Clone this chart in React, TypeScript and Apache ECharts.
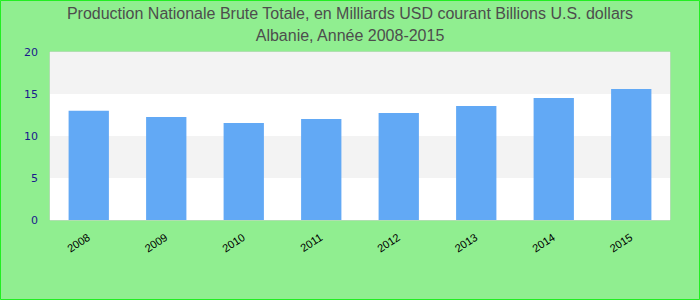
import React, { useEffect, useRef } from "react";
import * as echarts from "echarts";

const categories = ["2008", "2009", "2010", "2011", "2012", "2013", "2014", "2015"];
const values = [13.0, 12.26, 11.55, 12.02, 12.74, 13.57, 14.52, 15.6];
const titleLines = [
  "Production Nationale Brute Totale, en Milliards USD courant Billions U.S. dollars",
  "Albanie, Année 2008-2015",
];

export default function App() {
  const ref = useRef<HTMLDivElement>(null);
  useEffect(() => {
    document.body.style.margin = "0";
    const chart = echarts.init(ref.current!, null, { renderer: "svg" });
    chart.setOption({
      animation: false,
      backgroundColor: "#90EE90",
      title: {
        text: titleLines.join("\n"),
        left: "center",
        top: -3,
        textStyle: {
          fontFamily: "Liberation Sans",
          fontSize: 16,
          fontWeight: "normal",
          color: "#4D4D4D",
          lineHeight: 22,
        },
      },
      graphic: [
        {
          type: "rect",
          shape: { x: 0.5, y: 0.5, width: 699, height: 299 },
          style: { fill: "none", stroke: "#22EE22", lineWidth: 1 },
          silent: true,
        },
      ],
      grid: {
        left: 50,
        right: 30,
        top: 52,
        bottom: 80,
        show: true,
        borderColor: "#D0D0D0",
        borderWidth: 1,
        backgroundColor: "transparent",
      },
      xAxis: {
        type: "category",
        data: categories,
        axisLine: { show: false },
        axisTick: { show: false },
        axisLabel: {
          interval: 0,
          rotate: 33,
          margin: 16,
          fontFamily: "Liberation Sans",
          fontSize: 11,
          color: "#000",
        },
      },
      yAxis: {
        type: "value",
        min: 0,
        max: 20,
        interval: 5,
        axisLine: { show: false },
        axisTick: { show: false },
        splitLine: { show: false },
        splitArea: { show: true, areaStyle: { color: ["#FFFFFF", "#F3F3F3"] } },
        axisLabel: {
          fontFamily: "DejaVu Sans",
          fontSize: 11,
          color: "#1A1A8C",
          margin: 12,
        },
      },
      series: [
        {
          type: "bar",
          data: values,
          barWidth: "52%",
          itemStyle: { color: "#62A9F5" },
        },
      ],
    });
    return () => chart.dispose();
  }, []);
  return <div ref={ref} style={{ width: 700, height: 300 }} />;
}
